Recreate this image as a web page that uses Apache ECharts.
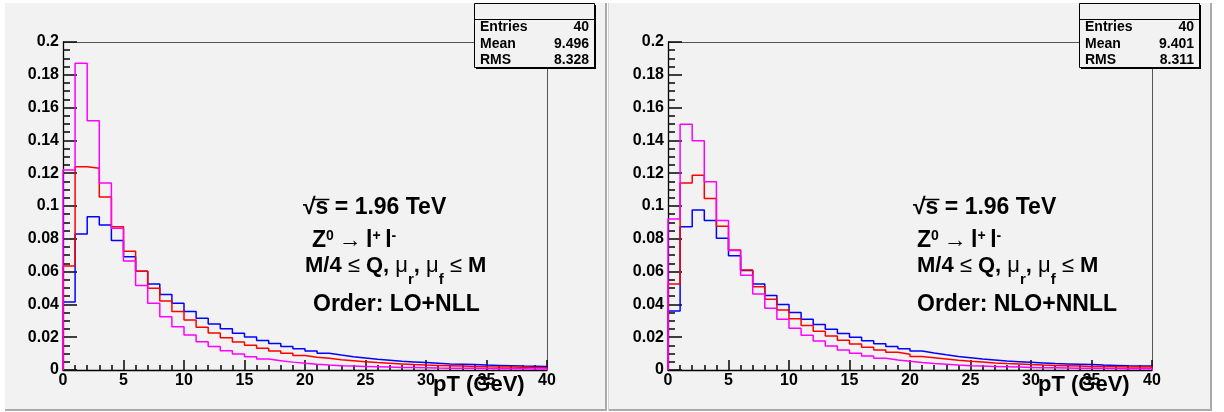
<!DOCTYPE html>
<html><head><meta charset="utf-8">
<script src="https://cdn.jsdelivr.net/npm/echarts@6/dist/echarts.min.js"></script>
<style>html,body{margin:0;padding:0;background:#fff}#c{width:1224px;height:412px}</style>
</head><body><div id="c"></div>
<script>
const FONT = '"Liberation Sans", Arial, Helvetica, sans-serif';
// bin contents (pT bins of 1 GeV from 0 to 40)
const loBlue = [0.0415,0.0829,0.0935,0.0884,0.0789,0.0691,0.0602,0.0524,0.0461,0.0407,0.0356,0.0315,0.0280,0.0251,0.0224,0.0201,0.0180,0.0161,0.0144,0.0130,0.0116,0.0102,0.0091,0.0081,0.0073,0.0065,0.0059,0.0053,0.0049,0.0045,0.0041,0.0037,0.0035,0.0033,0.0030,0.0028,0.0026,0.0024,0.0023,0.0022];
const loRed = [0.0634,0.1240,0.1230,0.1055,0.0874,0.0724,0.0602,0.0498,0.0421,0.0356,0.0305,0.0260,0.0226,0.0197,0.0171,0.0151,0.0133,0.0116,0.0102,0.0089,0.0078,0.0071,0.0063,0.0057,0.0051,0.0045,0.0041,0.0037,0.0033,0.0030,0.0028,0.0026,0.0024,0.0022,0.0020,0.0019,0.0018,0.0017,0.0016,0.0014];
const loMagenta = [0.1220,0.1870,0.1520,0.1140,0.0864,0.0665,0.0516,0.0407,0.0325,0.0264,0.0213,0.0173,0.0144,0.0118,0.0097,0.0081,0.0067,0.0056,0.0048,0.0041,0.0035,0.0030,0.0026,0.0024,0.0022,0.0020,0.0018,0.0016,0.0015,0.0014,0.0012,0.0011,0.0010,0.0010,0.0009,0.0008,0.0008,0.0007,0.0006,0.0006];
const nloBlue = [0.0360,0.0874,0.0976,0.0911,0.0803,0.0697,0.0606,0.0524,0.0455,0.0400,0.0350,0.0309,0.0278,0.0248,0.0222,0.0199,0.0179,0.0160,0.0144,0.0130,0.0116,0.0104,0.0093,0.0083,0.0075,0.0067,0.0061,0.0055,0.0051,0.0047,0.0043,0.0039,0.0037,0.0035,0.0033,0.0030,0.0028,0.0026,0.0025,0.0024];
const nloRed = [0.0524,0.1140,0.1187,0.1045,0.0876,0.0732,0.0610,0.0508,0.0431,0.0366,0.0313,0.0272,0.0236,0.0207,0.0181,0.0159,0.0138,0.0122,0.0108,0.0096,0.0083,0.0075,0.0067,0.0059,0.0053,0.0049,0.0043,0.0039,0.0037,0.0033,0.0030,0.0028,0.0026,0.0024,0.0022,0.0021,0.0020,0.0019,0.0018,0.0018];
const nloMagenta = [0.0921,0.1498,0.1398,0.1148,0.0911,0.0728,0.0577,0.0463,0.0376,0.0309,0.0254,0.0212,0.0177,0.0146,0.0122,0.0102,0.0085,0.0071,0.0061,0.0053,0.0045,0.0039,0.0035,0.0030,0.0026,0.0024,0.0022,0.0020,0.0018,0.0016,0.0014,0.0013,0.0012,0.0011,0.0010,0.0010,0.0009,0.0008,0.0008,0.0008];
const statsLabels = ['Entries', 'Mean', 'RMS'];
const statsLO = ['40', '9.496', '8.328'];
const statsNLO = ['40', '9.401', '8.311'];
const orderLabels = ['Order: LO+NLL', 'Order: NLO+NNLL'];
const xTitle = 'pT (GeV)';

function histPoints(vals) {
  const p = [[0, 0]];
  vals.forEach((v, i) => p.push([i, v]));
  p.push([vals.length, vals[vals.length - 1]]);
  p.push([vals.length, 0]);
  return p;
}

const G = [{left: 63, top: 42, width: 484, height: 328}, {left: 668, top: 42, width: 484, height: 328}];
const grids = G.map(g => Object.assign({show: false}, g));
const labelStyle = {fontFamily: FONT, fontWeight: 'bold', fontSize: 16, color: '#000'};
const TICK = {color: '#111', width: 1.6};
const xAxes = [0, 1].map(i => ({
  type: 'value', gridIndex: i, min: 0, max: 40, interval: 5,
  axisLine: {show: true, onZero: false, lineStyle: {color: '#000', width: 1.3}},
  axisTick: {show: true, inside: true, length: 10, lineStyle: TICK},
  minorTick: {show: true, splitNumber: 5, length: 5, lineStyle: TICK},
  axisLabel: Object.assign({margin: 3, showMinLabel: true, showMaxLabel: true}, labelStyle),
  splitLine: {show: false}, minorSplitLine: {show: false}
}));
const yAxes = [0, 1].map(i => ({
  type: 'value', gridIndex: i, min: 0, max: 0.2, interval: 0.02,
  axisLine: {show: true, onZero: false, lineStyle: {color: '#000', width: 1.3}},
  axisTick: {show: true, inside: true, length: 14, lineStyle: TICK},
  minorTick: {show: true, splitNumber: 4, length: 7, lineStyle: TICK},
  axisLabel: Object.assign({margin: 4, showMinLabel: true, showMaxLabel: true}, labelStyle),
  splitLine: {show: false}, minorSplitLine: {show: false}
}));

const panelData = [[loBlue, loRed, loMagenta], [nloBlue, nloRed, nloMagenta]];
const colors = ['#0000ff', '#ff0000', '#ff00ff'];
const series = [];
panelData.forEach((set, i) => set.forEach((vals, k) => series.push({
  type: 'line', xAxisIndex: i, yAxisIndex: i, step: 'end', symbol: 'none', silent: true,
  lineStyle: {color: colors[k], width: 1.5}, data: histPoints(vals)
})));

const els = [];
function pad(x, w) {
  els.push({type: 'rect', shape: {x: x, y: 3, width: w, height: 406}, style: {fill: '#f2f2f2'}});
  els.push({type: 'rect', shape: {x: x + w, y: 3, width: 2, height: 408}, style: {fill: '#aaaaaa'}});
  els.push({type: 'rect', shape: {x: x, y: 409, width: w + 2, height: 2}, style: {fill: '#aaaaaa'}});
}
pad(5, 600);
pad(609, 601);
els.push({type: 'rect', shape: {x: 608, y: 3, width: 1, height: 408}, style: {fill: '#d4d4d4'}});
// frame (top and right edges of the plot area)
G.forEach(g => {
  els.push({type: 'polyline', shape: {points: [[g.left, g.top + 0.5], [g.left + g.width + 0.5, g.top + 0.5], [g.left + g.width + 0.5, g.top + g.height]]}, style: {stroke: '#555', lineWidth: 1, fill: null}});
});

function statsBox(x0, values) {
  const y0 = 3, w = 120, h = 64;
  els.push({type: 'rect', shape: {x: x0 + 2, y: y0 + 2, width: w, height: h}, style: {fill: '#000'}});
  els.push({type: 'rect', shape: {x: x0 + 0.5, y: y0 + 0.5, width: w, height: h}, style: {fill: '#f2f2f2', stroke: '#000', lineWidth: 1}});
  els.push({type: 'line', shape: {x1: x0, y1: 19.5, x2: x0 + w, y2: 19.5}, style: {stroke: '#000', lineWidth: 1}});
  const rows = [27.5, 44.5, 60.5];
  statsLabels.forEach((lab, r) => {
    els.push({type: 'text', style: {text: lab, x: x0 + 6, y: rows[r], font: 'bold 14px ' + FONT, fill: '#000', align: 'left', verticalAlign: 'middle'}});
    els.push({type: 'text', style: {text: values[r], x: x0 + w - 5, y: rows[r], font: 'bold 14px ' + FONT, fill: '#000', align: 'right', verticalAlign: 'middle'}});
  });
}
statsBox(474, statsLO);
statsBox(1079, statsNLO);

const rich = {
  m: {fontFamily: FONT, fontWeight: 'bold', fontSize: 23, lineHeight: 23, color: '#000', verticalAlign: 'top'},
  g: {fontFamily: FONT, fontWeight: 'normal', fontSize: 23, lineHeight: 23, color: '#000', verticalAlign: 'top'},
  n: {fontFamily: FONT, fontWeight: 'bold', fontSize: 22, lineHeight: 22, color: '#000', verticalAlign: 'top'},
  h: {fontFamily: FONT, fontWeight: 'normal', fontSize: 22, lineHeight: 22, color: '#000', verticalAlign: 'top'},
  sup: {fontFamily: FONT, fontWeight: 'bold', fontSize: 14, lineHeight: 14, color: '#000', verticalAlign: 'top'},
  sub: {fontFamily: FONT, fontWeight: 'bold', fontSize: 15, lineHeight: 15, color: '#000', verticalAlign: 'top', padding: [17, 0, 0, 0]}
};
const mctx = document.createElement('canvas').getContext('2d');
function textW(t, font) { mctx.font = font; return mctx.measureText(t).width; }
const BIG = 'bold 23px ' + FONT;
function annotations(pos, order) {
  els.push({type: 'text', style: {text: '√s = 1.96 TeV', x: pos.sx, y: 208, font: BIG, fill: '#000', verticalAlign: 'middle'}});
  const rw = textW('√', BIG), sw = textW('s', BIG);
  els.push({type: 'line', shape: {x1: pos.sx + rw * 0.75, y1: 199.5, x2: pos.sx + rw + sw + 1, y2: 199.5}, style: {stroke: '#000', lineWidth: 1.5}});
  els.push({type: 'text', style: {text: '{m|Z}{sup|0}{g|\u2009→\u2009}{m|l}{sup|+}{m|\u2009l}{sup|-}', x: pos.zx, y: 229.5, rich: rich, verticalAlign: 'top'}});
  els.push({type: 'text', style: {text: '{n|M/4 }{h|≤}{n| Q, }{h|μ}{sub|r}{n|, }{h|μ}{sub|f}{n| }{h|≤}{n| M}', x: pos.mx, y: 255, rich: rich, verticalAlign: 'top'}});
  els.push({type: 'text', style: {text: order, x: pos.ox, y: 304.5, font: BIG, fill: '#000', verticalAlign: 'middle'}});
  els.push({type: 'text', style: {text: xTitle, x: pos.tx, y: 384.5, font: 'bold 22px ' + FONT, fill: '#000', verticalAlign: 'middle'}});
}
annotations({sx: 303, zx: 312, mx: 305, ox: 313, tx: 433}, orderLabels[0]);
annotations({sx: 913, zx: 917, mx: 917, ox: 917, tx: 1038}, orderLabels[1]);

const chart = echarts.init(document.getElementById('c'), null, {renderer: 'canvas'});
chart.setOption({
  animation: false,
  backgroundColor: '#ffffff',
  grid: grids, xAxis: xAxes, yAxis: yAxes, series: series,
  graphic: {z: -10, elements: els}
});
</script></body></html>
